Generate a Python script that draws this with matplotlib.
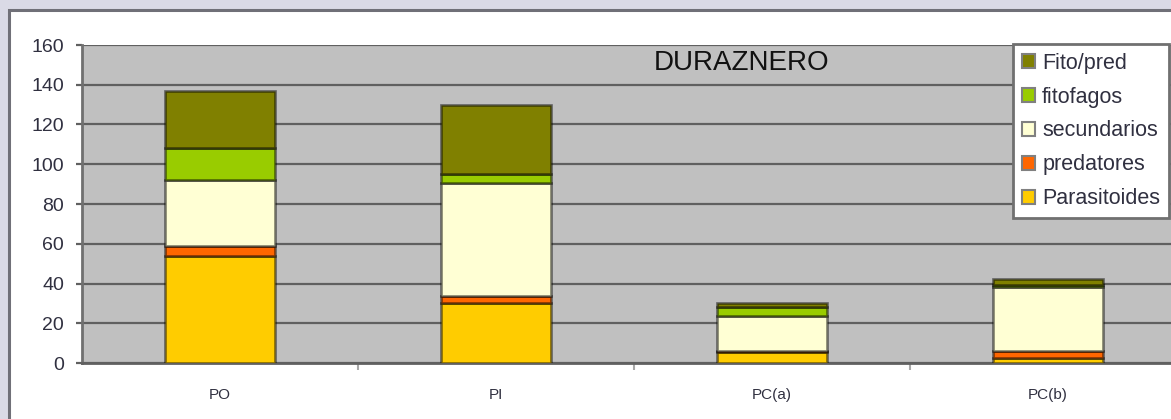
import matplotlib.pyplot as plt
from matplotlib.patches import Rectangle, Patch

plt.rcParams['font.family'] = ['Liberation Sans', 'DejaVu Sans']

categorias = ['PO', 'PI', 'PC(a)', 'PC(b)']
parasitoides = [54, 30, 5.5, 2.5]
predatores = [5, 3.5, 0.3, 3.5]
secundarios = [33, 57, 18, 32]
fitofagos = [16, 4.5, 4.3, 1]
fito_pred = [29, 35, 2, 3.5]

series = [('Parasitoides', parasitoides, '#ffcc00'),
          ('predatores', predatores, '#ff6600'),
          ('secundarios', secundarios, '#ffffd4'),
          ('fitofagos', fitofagos, '#99cc00'),
          ('Fito/pred', fito_pred, '#808000')]

fig = plt.figure(figsize=(11.71, 4.19), dpi=100)
fig.patch.set_facecolor('#dadae6')

# white chart frame, runs off the right and bottom edges
frame = Rectangle((9/1171, -0.1), 1.2, 1 - 10/419 + 0.1, transform=fig.transFigure,
                  facecolor='white', edgecolor='#707078', lw=2.2, zorder=-5)
fig.patches.append(frame)

ax = fig.add_axes([82/1171, 1 - 363/419, 1104/1171, 318/419])
ax.set_zorder(2)
ax.set_facecolor('#c0c0c0')

x = list(range(len(categorias)))
bottom = [0] * len(categorias)
handles = []
for name, vals, col in series:
    ax.bar(x, vals, 0.4, bottom=bottom, color=col, edgecolor=(0, 0, 0, 0.5),
           linewidth=1.9, zorder=3)
    bottom = [b + v for b, v in zip(bottom, vals)]
    handles.append(Patch(facecolor=col, edgecolor='#808080', lw=1.5, label=name))

ax.set_xlim(-0.5, 3.5)
ax.set_ylim(0, 160)
ax.set_yticks(range(0, 161, 20))
ax.yaxis.grid(True, color='#606060', lw=1.6, zorder=1)
ax.set_axisbelow(True)

ax.set_xticks(x)
ax.set_xticklabels(categorias, fontsize=11, color='#303040')
ax.set_xticks([0.5, 1.5, 2.5], minor=True)
ax.tick_params(axis='x', which='major', length=0, pad=18)
ax.tick_params(axis='x', which='minor', length=5, width=1.5, color='#a8a8a8')
ax.tick_params(axis='y', length=4, width=1.6, color='#606060', pad=9,
               labelsize=14, labelcolor='#303040')

for s in ['top', 'right']:
    ax.spines[s].set_visible(False)
ax.spines['left'].set_color('#707070')
ax.spines['left'].set_linewidth(2)
ax.spines['bottom'].set_color('#606060')
ax.spines['bottom'].set_linewidth(2)

ax.text(0.597, 0.943, 'DURAZNERO', transform=ax.transAxes, ha='center', va='center',
        fontsize=20, color='#111111')

leg = ax.legend(handles=handles[::-1], loc='upper left',
                bbox_to_anchor=(1013/1171, 1 - 44/419), bbox_transform=fig.transFigure,
                borderaxespad=0, fontsize=15.5, frameon=True, fancybox=False,
                handlelength=0.6, handleheight=0.6, handletextpad=0.35,
                labelspacing=0.6, borderpad=0.4)
leg.get_frame().set_edgecolor('#707070')
leg.get_frame().set_linewidth(2)
leg.get_frame().set_facecolor('white')
leg.get_frame().set_alpha(1)
for t in leg.get_texts():
    t.set_color('#303040')

fig.savefig('out.png', dpi=100)
